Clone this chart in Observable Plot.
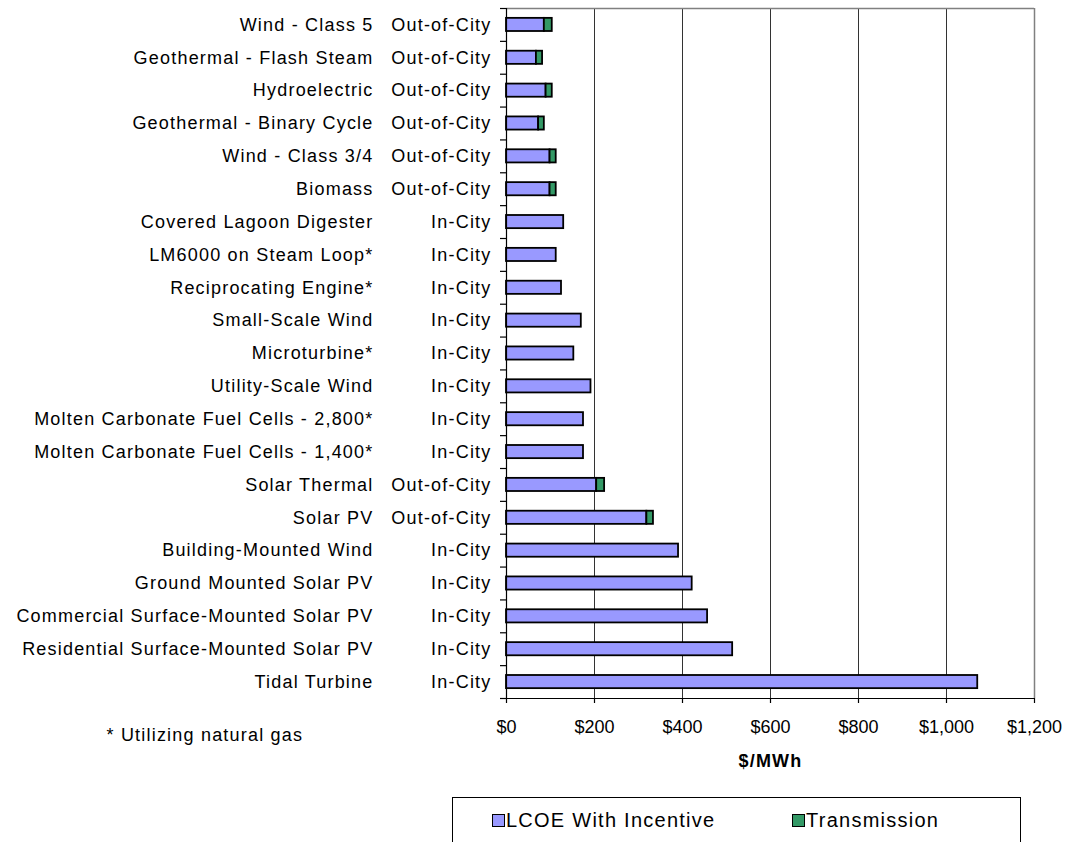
<!DOCTYPE html>
<html>
<head>
<meta charset="utf-8">
<script src="https://cdn.jsdelivr.net/npm/d3@7"></script>
<script src="https://cdn.jsdelivr.net/npm/@observablehq/plot@0.6"></script>
<style>
  html, body { margin: 0; padding: 0; background: #fff; }
  #wrap { position: relative; width: 1070px; height: 842px; overflow: hidden; font-family: "Liberation Sans", Arial, sans-serif; }
  #wrap svg { display: block; }
  #wrap g[aria-label="text"] text { letter-spacing: 1.2px; }
  #legend { position: absolute; left: 452px; top: 797px; width: 569px; height: 60px; border: 1px solid #000; box-sizing: border-box; background: #fff; }
  .item { position: absolute; top: 11px; display: flex; align-items: center; font-size: 20px; letter-spacing: 1.25px; color: #000; }
  .sw { width: 13px; height: 13px; border: 1px solid #000; box-sizing: border-box; margin-right: 1px; }
</style>
</head>
<body>
<div id="wrap">
  <div id="chart"></div>
  <div id="legend"></div>
</div>
<script>
const techs = [
  "Wind - Class 5", "Geothermal - Flash Steam", "Hydroelectric", "Geothermal - Binary Cycle",
  "Wind - Class 3/4", "Biomass", "Covered Lagoon Digester", "LM6000 on Steam Loop*",
  "Reciprocating Engine*", "Small-Scale Wind", "Microturbine*", "Utility-Scale Wind",
  "Molten Carbonate Fuel Cells - 2,800*", "Molten Carbonate Fuel Cells - 1,400*",
  "Solar Thermal", "Solar PV", "Building-Mounted Wind", "Ground Mounted Solar PV",
  "Commercial Surface-Mounted Solar PV", "Residential Surface-Mounted Solar PV", "Tidal Turbine"
];
const locations = [
  "Out-of-City", "Out-of-City", "Out-of-City", "Out-of-City", "Out-of-City", "Out-of-City",
  "In-City", "In-City", "In-City", "In-City", "In-City", "In-City", "In-City", "In-City",
  "Out-of-City", "Out-of-City", "In-City", "In-City", "In-City", "In-City", "In-City"
];
const lcoe = [86, 68, 90, 73, 99, 99, 130, 113, 125, 170, 153, 192, 175, 175, 205, 319, 391, 422, 457, 514, 1071];
const transmission = [18, 14, 14, 13, 14, 14, 0, 0, 0, 0, 0, 0, 0, 0, 18, 15, 0, 0, 0, 0, 0];
const seriesNames = ["LCOE With Incentive", "Transmission"];
const seriesColors = ["#9999FF", "#339966"];
const xTicks = [0, 200, 400, 600, 800, 1000, 1200];
const gridTicks = [200, 400, 600, 800, 1000];
const axisTitle = "$/MWh";
const footnote = "* Utilizing natural gas";

const rows = [];
techs.forEach((t, i) => {
  rows.push({tech: t, series: seriesNames[0], value: lcoe[i]});
  if (transmission[i] > 0) rows.push({tech: t, series: seriesNames[1], value: transmission[i]});
});
const labels = techs.map((t, i) => ({tech: t, loc: locations[i]}));

const W = 1070, H = 790, mT = 8, mB = H - 698, mL = 506, mR = W - 1034;
const step = (H - mT - mB) / techs.length;
const font = '"Liberation Sans", Arial, sans-serif';
const fmt = d => "$" + d3.format(",")(d);

const chart = Plot.plot({
  width: W, height: H,
  marginTop: mT, marginBottom: mB, marginLeft: mL, marginRight: mR,
  style: {fontFamily: font, fontSize: "18px", color: "#000", background: "#fff", overflow: "visible"},
  x: {domain: [0, 1200], axis: null},
  y: {domain: techs, paddingInner: 0.6, paddingOuter: 0.3, round: false, axis: null},
  color: {domain: seriesNames, range: seriesColors},
  marks: [
    Plot.ruleX(gridTicks, {stroke: "#333", strokeWidth: 1}),
    Plot.ruleX([1200], {stroke: "#808080", strokeWidth: 1.5}),
    Plot.ruleY([techs[0]], {dy: -step / 2, stroke: "#808080", strokeWidth: 1.5}),
    Plot.barX(rows, {y: "tech", x: "value", fill: "series", stroke: "#000", strokeWidth: 1.8}),
    Plot.ruleX([0], {stroke: "#000", strokeWidth: 1.2}),
    Plot.ruleY([techs[techs.length - 1]], {dy: step / 2, stroke: "#000", strokeWidth: 1.2}),
    Plot.axisY({ticks: techs, tickSize: 6, dy: -step / 2, tickFormat: () => "", label: null, strokeWidth: 1.2}),
    Plot.axisY({ticks: [techs[techs.length - 1]], tickSize: 6, dy: step / 2, tickFormat: () => "", label: null, strokeWidth: 1.2}),
    Plot.axisX({ticks: xTicks, tickSize: 5, tickPadding: 17, tickFormat: fmt, label: null, fontSize: 18, strokeWidth: 1.2}),
    Plot.text(labels, {y: "tech", text: "tech", frameAnchor: "left", dx: -133, textAnchor: "end", fontSize: 18, fill: "#000"}),
    Plot.text(labels, {y: "tech", text: "loc", frameAnchor: "left", dx: -15, textAnchor: "end", fontSize: 18, fill: "#000"}),
    Plot.text([axisTitle], {text: d => d, frameAnchor: "bottom", dy: 63, lineAnchor: "middle", fontSize: 18, fontWeight: "bold", fill: "#000"}),
    Plot.text([footnote], {text: d => d, frameAnchor: "bottom-left", dx: -400, dy: 36.5, textAnchor: "start", lineAnchor: "middle", fontSize: 18, fill: "#000"})
  ]
});
document.getElementById("chart").appendChild(chart);

const legend = document.getElementById("legend");
const itemLefts = [39, 339];
seriesNames.forEach((name, i) => {
  const it = document.createElement("div");
  it.className = "item";
  it.style.left = itemLefts[i] + "px";
  const sw = document.createElement("div");
  sw.className = "sw";
  sw.style.background = seriesColors[i];
  const tx = document.createElement("span");
  tx.textContent = name;
  it.appendChild(sw);
  it.appendChild(tx);
  legend.appendChild(it);
});
</script>
</body>
</html>
